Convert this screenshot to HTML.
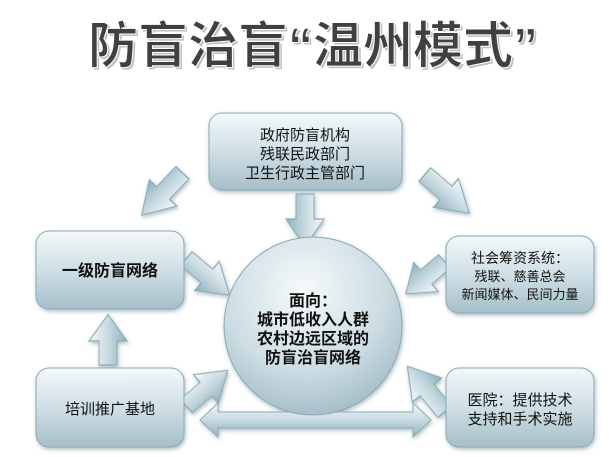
<!DOCTYPE html>
<html><head><meta charset="utf-8"><style>
body{margin:0;background:#fff;width:612px;height:457px;overflow:hidden;font-family:"Liberation Sans","Noto Sans CJK SC",sans-serif;}
</style></head><body>
<svg width="612" height="457" viewBox="0 0 612 457" xmlns="http://www.w3.org/2000/svg" style="position:absolute;left:0;top:0">
<defs>
<linearGradient id="bx" x1="0" y1="0" x2="0" y2="1">
<stop offset="0" stop-color="#f3f8fa"/><stop offset="0.5" stop-color="#cfdfe5"/><stop offset="1" stop-color="#a6bfc9"/></linearGradient>
<radialGradient id="cg" cx="0.45" cy="0.3" r="0.75">
<stop offset="0" stop-color="#f6fafb"/><stop offset="0.6" stop-color="#cddde3"/><stop offset="1" stop-color="#9fb9c4"/></radialGradient>
<linearGradient id="ar" x1="0" y1="0" x2="0" y2="1">
<stop offset="0" stop-color="#f4f8fa"/><stop offset="0.5" stop-color="#c8dae1"/><stop offset="1" stop-color="#8fb0bd"/></linearGradient>
<filter id="sh" x="-20%" y="-20%" width="140%" height="140%"><feDropShadow dx="1" dy="2" stdDeviation="2" flood-color="#5f7f8c" flood-opacity="0.5"/></filter>
<g id="arr"><polygon points="0,-9 -20,-9 -20,9 0,9 0,19 22,0 0,-19" fill="url(#ar)" stroke="#8fadb9" stroke-width="1"/></g>
</defs>
<text x="313" y="63" text-anchor="middle" font-size="50" font-weight="bold" fill="#bfbfbf" font-family="Liberation Sans,Noto Sans CJK SC,sans-serif" transform="translate(2,2)">防盲治盲“温州模式”</text>
<text x="313" y="63" text-anchor="middle" font-size="50" font-weight="bold" fill="#404040" stroke="#fff" stroke-width="1" font-family="Liberation Sans,Noto Sans CJK SC,sans-serif">防盲治盲“温州模式”</text>

<g filter="url(#sh)">
<g transform="translate(163,193) rotate(133.7) scale(1.4,1)"><use href="#arr"/></g>
<g transform="translate(305,219) rotate(90) scale(1.25,1)"><use href="#arr"/></g>
<g transform="translate(446,193) rotate(41) scale(1.4,1)"><use href="#arr"/></g>
<g transform="translate(207,276) rotate(40) scale(1.35,1)"><use href="#arr"/></g>
<g transform="translate(426,277) rotate(140) scale(1.2,1)"><use href="#arr"/></g>
<g transform="translate(108,341) rotate(-90) scale(1.2,1)"><use href="#arr"/></g>
<g transform="translate(206,389) rotate(-41) scale(1.3,1)"><use href="#arr"/></g>
<g transform="translate(427,390) rotate(-129.6) scale(1.4,1)"><use href="#arr"/></g>
<polygon points="200,420 218,403 218,412 413,412 413,403 431,420 413,437 413,428 218,428 218,437" fill="url(#ar)" stroke="#8fadb9"/>

<rect x="209" y="113" width="193" height="77" rx="13" fill="url(#bx)" stroke="#8aa9b5"/>
<rect x="36" y="231" width="148" height="78" rx="13" fill="url(#bx)" stroke="#8aa9b5"/>
<rect x="36" y="368" width="148" height="79" rx="13" fill="url(#bx)" stroke="#8aa9b5"/>
<rect x="446" y="236" width="148" height="77" rx="13" fill="url(#bx)" stroke="#8aa9b5"/>
<rect x="446" y="368" width="148" height="79" rx="13" fill="url(#bx)" stroke="#8aa9b5"/>
<circle cx="313" cy="326" r="89" fill="url(#cg)" stroke="#8aa9b5"/>
</g>

<g font-family="Liberation Sans,Noto Sans CJK SC,sans-serif" fill="#111" text-anchor="middle">
<text x="305" y="140" font-size="15">政府防盲机构</text>
<text x="305" y="159" font-size="15">残联民政部门</text>
<text x="305" y="178" font-size="15">卫生行政主管部门</text>
<text x="110" y="276" font-size="16" font-weight="bold">一级防盲网络</text>
<text x="110" y="414" font-size="15">培训推广基地</text>
<text x="520" y="263" font-size="14">社会筹资系统：</text>
<text x="520" y="281" font-size="13">残联、慈善总会</text>
<text x="520" y="299" font-size="13">新闻媒体、民间力量</text>
<text x="520" y="405" font-size="15">医院：提供技术</text>
<text x="520" y="424" font-size="15">支持和手术实施</text>
<text x="313" y="306" font-size="16" font-weight="bold">面向：</text>
<text x="313" y="325" font-size="16" font-weight="bold">城市低收入人群</text>
<text x="313" y="344" font-size="16" font-weight="bold">农村边远区域的</text>
<text x="313" y="363" font-size="16" font-weight="bold">防盲治盲网络</text>
</g>
</svg>
</body></html>
